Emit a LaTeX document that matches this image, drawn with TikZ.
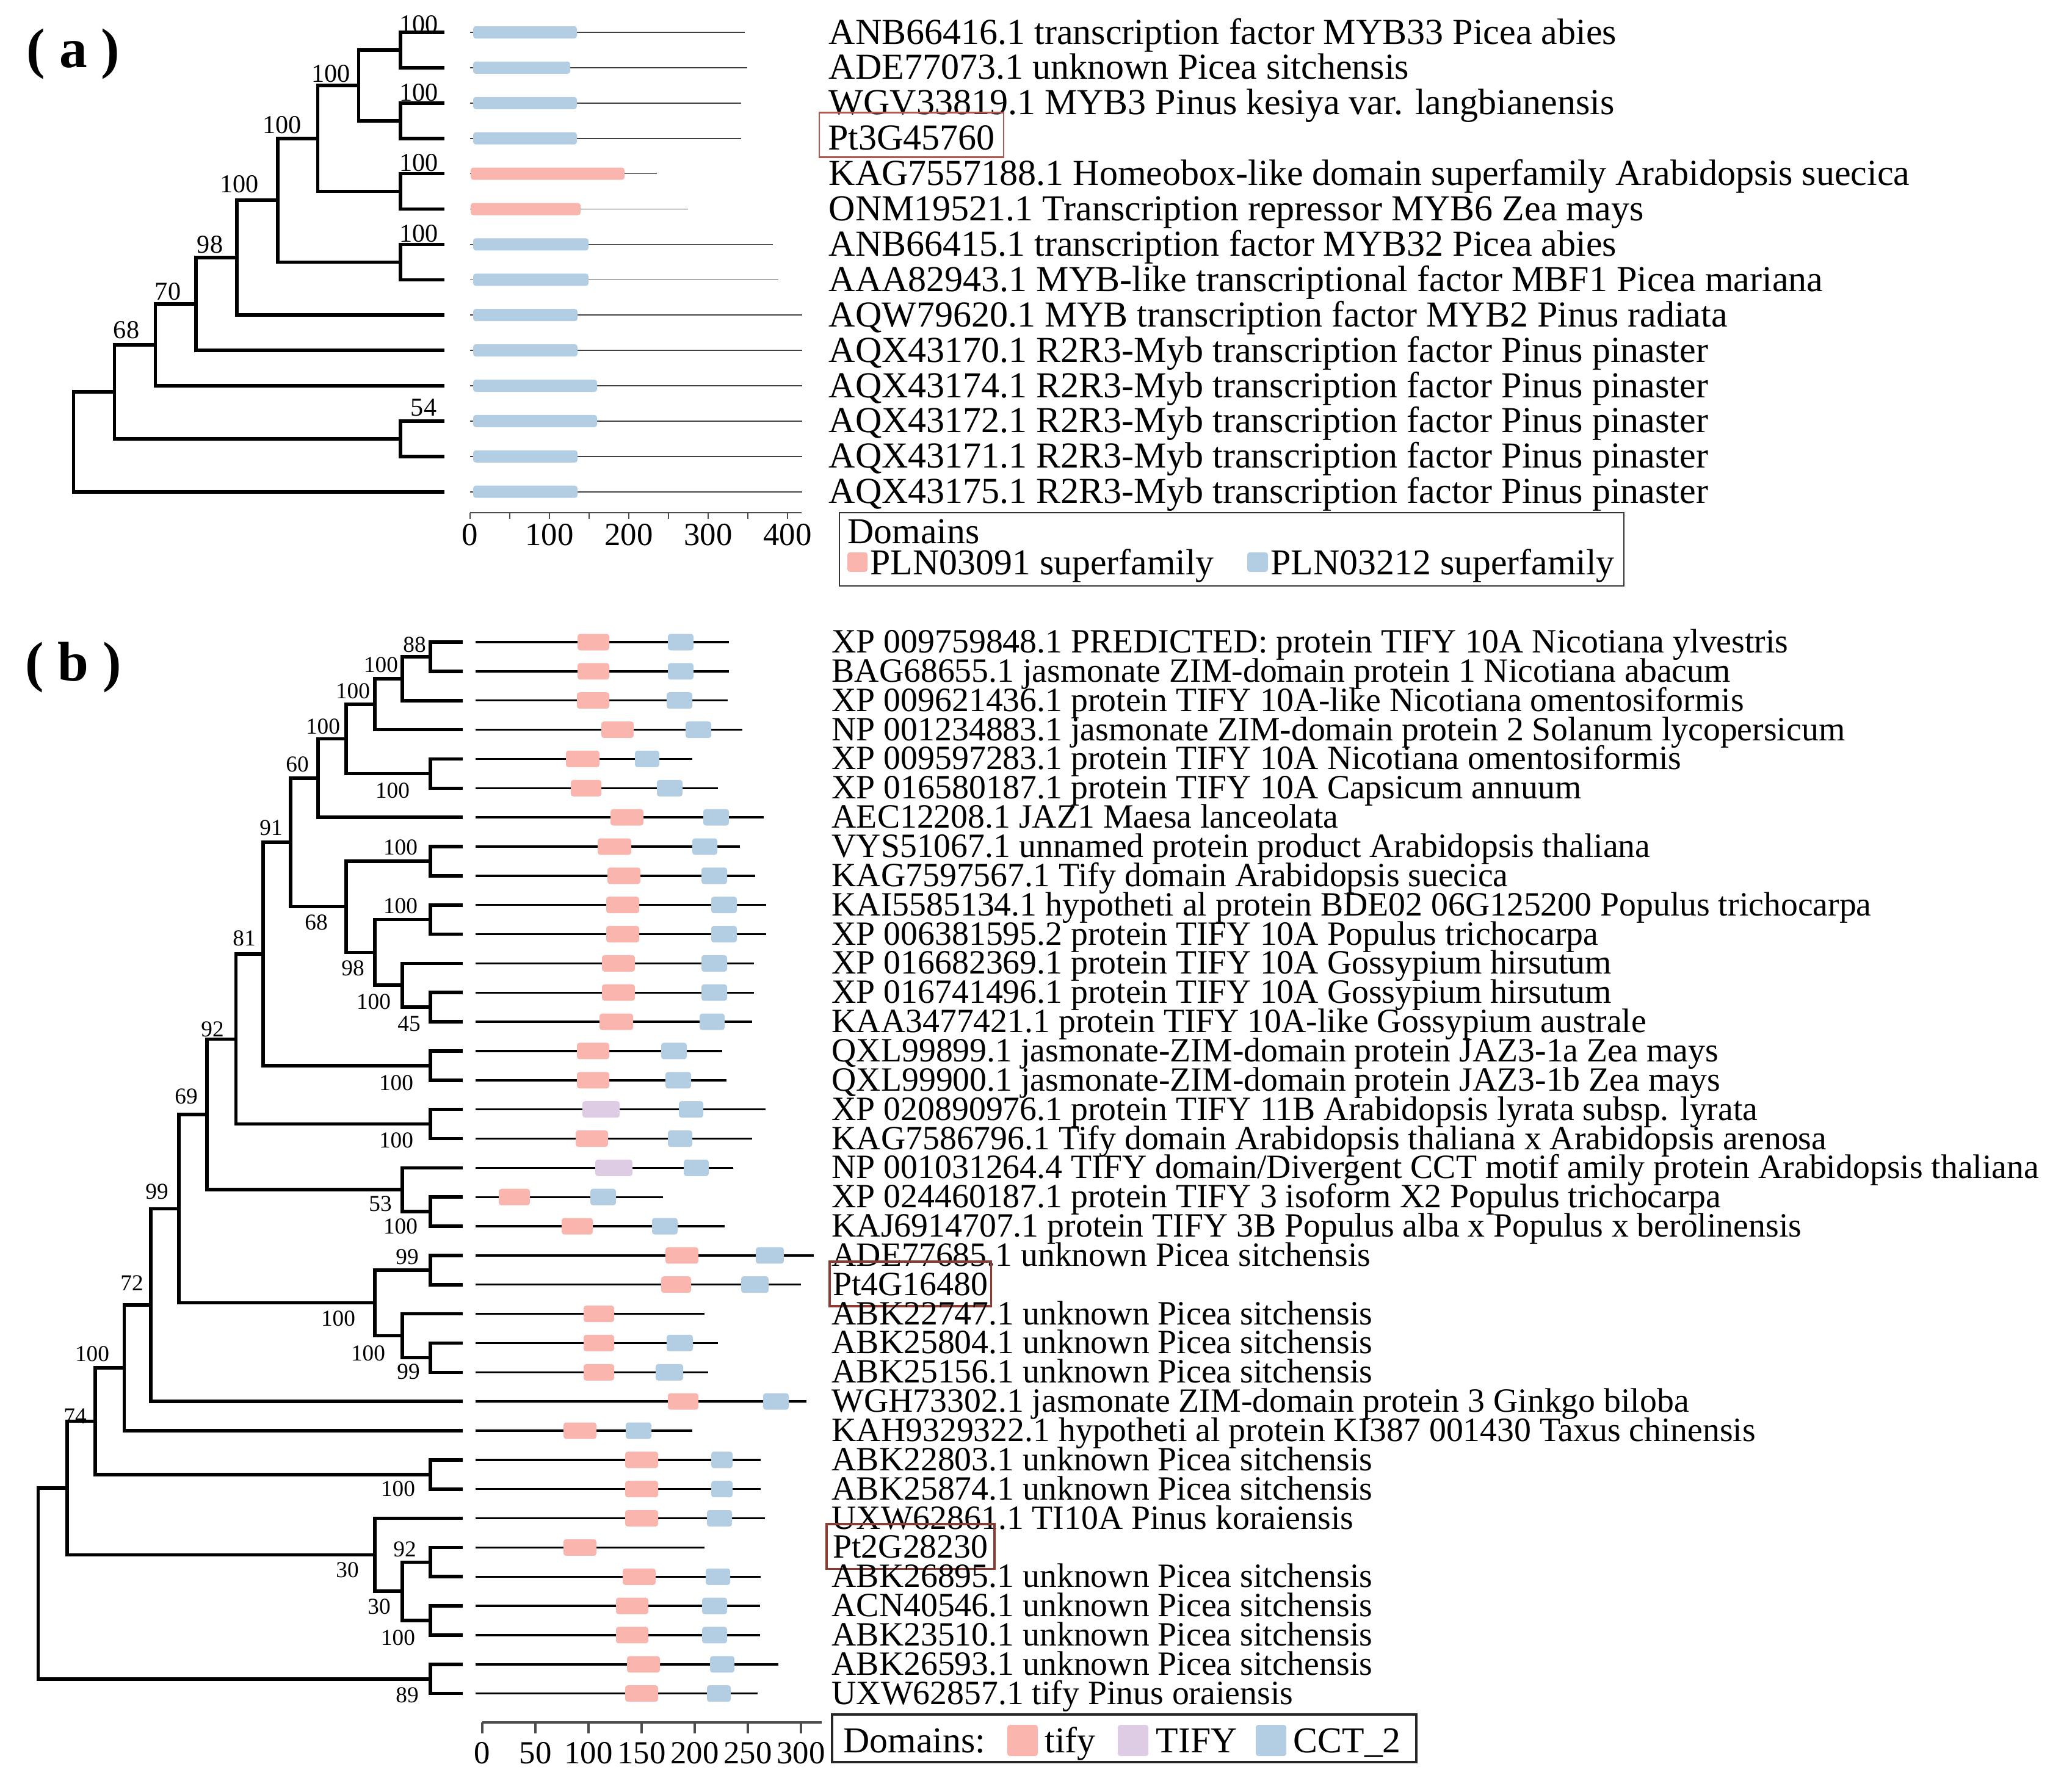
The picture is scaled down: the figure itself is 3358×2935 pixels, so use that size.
\documentclass[tikz,border=0pt]{standalone}
\usepackage{fontspec}
\setmainfont{Liberation Serif}
\usepackage{tikz}
\usetikzlibrary{positioning}
\definecolor{tifyc}{RGB}{249,181,174}
\definecolor{cctc}{RGB}{179,205,227}
\definecolor{tiflc}{RGB}{221,204,228}
\definecolor{boxa}{RGB}{178,88,80}
\definecolor{boxb}{RGB}{138,60,50}

\begin{document}
\begin{tikzpicture}[x=0.01cm, y=-0.01cm]
\tikzstyle{br}=[line width=1.6pt, line cap=rect]
\tikzstyle{bba}=[line width=0.45pt, black!75]
\tikzstyle{bbb}=[line width=0.95pt]
\tikzstyle{tify}=[fill=tifyc, rounded corners=1.2pt]
\tikzstyle{tifu}=[fill=tiflc, rounded corners=1.2pt]
\tikzstyle{cct}=[fill=cctc, rounded corners=1.2pt]
\tikzstyle{ta}=[anchor=base west, inner sep=0pt, yshift=-0.19cm, font=\fontsize{17.07pt}{20pt}\selectfont]
\tikzstyle{tb}=[anchor=base west, inner sep=0pt, yshift=-0.175cm, font=\fontsize{15.85pt}{18pt}\selectfont]
\tikzstyle{ptboxa}=[draw=boxa, line width=0.7pt, inner xsep=4pt, inner ysep=1pt, text height=16.4pt, text depth=2.4pt]
\tikzstyle{ptboxb}=[draw=boxb, line width=1.1pt, inner xsep=1.5pt, inner ysep=1pt, text height=14.8pt, text depth=4pt]
\tikzstyle{bsa}=[inner sep=0pt, font=\fontsize{12pt}{14pt}\selectfont]
\tikzstyle{bsb}=[inner sep=0pt, font=\fontsize{10.6pt}{13pt}\selectfont]
\tikzstyle{tick}=[inner sep=0pt, font=\fontsize{15pt}{17pt}\selectfont]
\tikzstyle{ax}=[line width=0.7pt, black!70]
\tikzstyle{leg}=[anchor=base west, inner sep=0pt, font=\fontsize{17pt}{20pt}\selectfont]
\tikzstyle{pan}=[inner sep=0pt, font=\fontsize{26pt}{30pt}\selectfont\bfseries]
\useasboundingbox (0,0) rectangle (3358,2935);

% ---------------- (a) ----------------
\node[pan] (pa) at (120,88) {( a )};
\coordinate (la1) at (725,53); \coordinate (la2) at (725,110.9); \coordinate (la3) at (725,168.8);
\coordinate (la4) at (725,226.7); \coordinate (la5) at (725,284.6); \coordinate (la6) at (725,342.5);
\coordinate (la7) at (725,400.4); \coordinate (la8) at (725,458.3); \coordinate (la9) at (725,516.2);
\coordinate (la10) at (725,574.1); \coordinate (la11) at (725,632); \coordinate (la12) at (725,689.9);
\coordinate (la13) at (725,747.8); \coordinate (la14) at (725,805.7);
\coordinate (na1) at (656,82); \coordinate (na2) at (656,197.75); \coordinate (na3) at (587.5,139.9);
\coordinate (na5) at (656,313.55); \coordinate (na4) at (520.5,226.7); \coordinate (na7) at (656,429.35);
\coordinate (na6) at (455,328); \coordinate (na8) at (388,422.1); \coordinate (na9) at (321,498.1);
\coordinate (na10) at (254.5,565.05); \coordinate (na11) at (656,718.85); \coordinate (na12) at (187.5,641.95);
\coordinate (na13) at (120.5,723.8);

\draw[br] (na1) |- (la1) (na1) |- (la2) (na2) |- (la3) (na2) |- (la4);
\draw[br] (na3) |- (na1) (na3) |- (na2) (na5) |- (la5) (na5) |- (la6);
\draw[br] (na4) |- (na3) (na4) |- (na5) (na7) |- (la7) (na7) |- (la8);
\draw[br] (na6) |- (na4) (na6) |- (na7) (na8) |- (na6) (na8) |- (la9);
\draw[br] (na9) |- (na8) (na9) |- (la10) (na10) |- (na9) (na10) |- (la11);
\draw[br] (na11) |- (la12) (na11) |- (la13) (na12) |- (na10) (na12) |- (na11);
\draw[br] (na13) |- (na12) (na13) |- (la14);

\node[bsa] (sa1) at (686,40) {100}; \node[bsa] (sa2) at (542,121) {100};
\node[bsa] (sa3) at (686,152) {100}; \node[bsa] (sa4) at (462,205) {100};
\node[bsa] (sa5) at (686,267) {100}; \node[bsa] (sa6) at (392,302) {100};
\node[bsa] (sa7) at (686,383) {100}; \node[bsa] (sa8) at (344,401) {98};
\node[bsa] (sa9) at (275,478) {70}; \node[bsa] (sa10) at (207,541) {68};
\node[bsa] (sa11) at (694,668) {54};

% domains (a)
\draw[bba] (770,53) -- (1220,53); \fill[cct] (775,53) +(0,-10) rectangle +(170,10);
\draw[bba] (770,110.9) -- (1224,110.9); \fill[cct] (775,110.9) +(0,-10) rectangle +(159,10);
\draw[bba] (770,168.8) -- (1214,168.8); \fill[cct] (775,168.8) +(0,-10) rectangle +(170,10);
\draw[bba] (770,226.7) -- (1214,226.7); \fill[cct] (775,226.7) +(0,-10) rectangle +(170,10);
\draw[bba] (770,284.6) -- (1076,284.6); \fill[tify] (771,284.6) +(0,-10) rectangle +(252,10);
\draw[bba] (770,342.5) -- (1127,342.5); \fill[tify] (771,342.5) +(0,-10) rectangle +(180,10);
\draw[bba] (770,400.4) -- (1266,400.4); \fill[cct] (775,400.4) +(0,-10) rectangle +(189,10);
\draw[bba] (770,458.3) -- (1275,458.3); \fill[cct] (775,458.3) +(0,-10) rectangle +(189,10);
\draw[bba] (770,516.2) -- (1314,516.2); \fill[cct] (775,516.2) +(0,-10) rectangle +(171,10);
\draw[bba] (770,574.1) -- (1314,574.1); \fill[cct] (775,574.1) +(0,-10) rectangle +(171,10);
\draw[bba] (770,632) -- (1314,632); \fill[cct] (775,632) +(0,-10) rectangle +(203,10);
\draw[bba] (770,689.9) -- (1314,689.9); \fill[cct] (775,689.9) +(0,-10) rectangle +(203,10);
\draw[bba] (770,747.8) -- (1314,747.8); \fill[cct] (775,747.8) +(0,-10) rectangle +(171,10);
\draw[bba] (770,805.7) -- (1314,805.7); \fill[cct] (775,805.7) +(0,-10) rectangle +(171,10);

\node[ta] (ta1) at (1357,53) {ANB66416.1 transcription factor MYB33 Picea abies};
\node[ta] (ta2) at (1357,110.9) {ADE77073.1 unknown Picea sitchensis};
\node[ta] (ta3) at (1357,168.8) {WGV33819.1 MYB3 Pinus kesiya var. langbianensis};
\node[ta, ptboxa] (ta4) at (1341,226.7) {Pt3G45760};
\node[ta] (ta5) at (1357,284.6) {KAG7557188.1 Homeobox-like domain superfamily Arabidopsis suecica};
\node[ta] (ta6) at (1357,342.5) {ONM19521.1 Transcription repressor MYB6 Zea mays};
\node[ta] (ta7) at (1357,400.4) {ANB66415.1 transcription factor MYB32 Picea abies};
\node[ta] (ta8) at (1357,458.3) {AAA82943.1 MYB-like transcriptional factor MBF1 Picea mariana};
\node[ta] (ta9) at (1357,516.2) {AQW79620.1 MYB transcription factor MYB2 Pinus radiata};
\node[ta] (ta10) at (1357,574.1) {AQX43170.1 R2R3-Myb transcription factor Pinus pinaster};
\node[ta] (ta11) at (1357,632) {AQX43174.1 R2R3-Myb transcription factor Pinus pinaster};
\node[ta] (ta12) at (1357,689.9) {AQX43172.1 R2R3-Myb transcription factor Pinus pinaster};
\node[ta] (ta13) at (1357,747.8) {AQX43171.1 R2R3-Myb transcription factor Pinus pinaster};
\node[ta] (ta14) at (1357,805.7) {AQX43175.1 R2R3-Myb transcription factor Pinus pinaster};

% scale (a)
\draw[ax] (770,840) -- (1313,840) (770,840) -- (770,850) (835,840) -- (835,850) (900,840) -- (900,850)
  (965,840) -- (965,850) (1030,840) -- (1030,850) (1095,840) -- (1095,850) (1160,840) -- (1160,850)
  (1225,840) -- (1225,850) (1290,840) -- (1290,850);
\node[tick] (ka0) at (770,876) {0}; \node[tick] (ka1) at (900,876) {100}; \node[tick] (ka2) at (1030,876) {200};
\node[tick] (ka3) at (1160,876) {300}; \node[tick] (ka4) at (1290,876) {400};

% legend (a)
\draw[line width=0.8pt, black!80] (1375,840) rectangle (2660,960);
\node[leg] (lga) at (1388,890) {Domains};
\fill[tify] (1388,905) rectangle (1421,937);
\node[leg] (lga1) at (1425,941) {PLN03091 superfamily};
\fill[cct] (2043,905) rectangle (2077,937);
\node[leg] (lga2) at (2081,941) {PLN03212 superfamily};

% ---------------- (b) ----------------
\node[pan] (pb) at (120,1093) {( b )};
\coordinate (lb1) at (755,1052); \coordinate (lb2) at (755,1099.9); \coordinate (lb3) at (755,1147.7);
\coordinate (lb4) at (755,1195.6); \coordinate (lb5) at (755,1243.4); \coordinate (lb6) at (755,1291.3);
\coordinate (lb7) at (755,1339.1); \coordinate (lb8) at (755,1387); \coordinate (lb9) at (755,1434.8);
\coordinate (lb10) at (755,1482.7); \coordinate (lb11) at (755,1530.5); \coordinate (lb12) at (755,1578.4);
\coordinate (lb13) at (755,1626.2); \coordinate (lb14) at (755,1674.1); \coordinate (lb15) at (755,1721.9);
\coordinate (lb16) at (755,1769.8); \coordinate (lb17) at (755,1817.6); \coordinate (lb18) at (755,1865.5);
\coordinate (lb19) at (755,1913.3); \coordinate (lb20) at (755,1961.2); \coordinate (lb21) at (755,2009);
\coordinate (lb22) at (755,2056.9); \coordinate (lb23) at (755,2104.7); \coordinate (lb24) at (755,2152.6);
\coordinate (lb25) at (755,2200.4); \coordinate (lb26) at (755,2248.3); \coordinate (lb27) at (755,2296.1);
\coordinate (lb28) at (755,2344); \coordinate (lb29) at (755,2391.8); \coordinate (lb30) at (755,2439.7);
\coordinate (lb31) at (755,2487.5); \coordinate (lb32) at (755,2535.4); \coordinate (lb33) at (755,2583.2);
\coordinate (lb34) at (755,2631.1); \coordinate (lb35) at (755,2678.9); \coordinate (lb36) at (755,2726.8);
\coordinate (lb37) at (755,2774.6);

\coordinate (nb1) at (705,1075.9); \coordinate (nb2) at (659,1111.8); \coordinate (nb3) at (614,1153.7);
\coordinate (nb4) at (705,1267.3); \coordinate (nb5) at (567,1210.5); \coordinate (nb6) at (521,1274.8);
\coordinate (nb7) at (705,1410.9); \coordinate (nb8) at (705,1506.6); \coordinate (nb9) at (705,1650.1);
\coordinate (nb10) at (659,1614.2); \coordinate (nb11) at (614,1560.4); \coordinate (nb12) at (567,1485.6);
\coordinate (nb13) at (476,1380.2); \coordinate (nb14) at (705,1745.8); \coordinate (nb15) at (431,1563);
\coordinate (nb16) at (705,1841.5); \coordinate (nb17) at (386.6,1702.3); \coordinate (nb18) at (705,1985.1);
\coordinate (nb19) at (659,1949.2); \coordinate (nb20) at (339,1825.7); \coordinate (nb21) at (705,2080.8);
\coordinate (nb22) at (705,2224.3); \coordinate (nb23) at (659,2188.4); \coordinate (nb24) at (614,2134.6);
\coordinate (nb25) at (293,1980.3); \coordinate (nb26) at (247,2138.2); \coordinate (nb27) at (203.6,2241.1);
\coordinate (nb28) at (705,2415.7); \coordinate (nb29) at (156,2328.4); \coordinate (nb30) at (705,2559.3);
\coordinate (nb31) at (705,2655); \coordinate (nb32) at (659,2607.1); \coordinate (nb33) at (614,2547.3);
\coordinate (nb34) at (110,2437.7); \coordinate (nb35) at (705,2750.7); \coordinate (nb36) at (62.5,2594.2);

\draw[br] (nb1) |- (lb1) (nb1) |- (lb2) (nb2) |- (nb1) (nb2) |- (lb3) (nb3) |- (nb2) (nb3) |- (lb4);
\draw[br] (nb4) |- (lb5) (nb4) |- (lb6) (nb5) |- (nb3) (nb5) |- (nb4) (nb6) |- (nb5) (nb6) |- (lb7);
\draw[br] (nb7) |- (lb8) (nb7) |- (lb9) (nb8) |- (lb10) (nb8) |- (lb11) (nb9) |- (lb13) (nb9) |- (lb14);
\draw[br] (nb10) |- (lb12) (nb10) |- (nb9) (nb11) |- (nb8) (nb11) |- (nb10) (nb12) |- (nb7) (nb12) |- (nb11);
\draw[br] (nb13) |- (nb6) (nb13) |- (nb12) (nb14) |- (lb15) (nb14) |- (lb16) (nb15) |- (nb13) (nb15) |- (nb14);
\draw[br] (nb16) |- (lb17) (nb16) |- (lb18) (nb17) |- (nb15) (nb17) |- (nb16);
\draw[br] (nb18) |- (lb20) (nb18) |- (lb21) (nb19) |- (lb19) (nb19) |- (nb18) (nb20) |- (nb17) (nb20) |- (nb19);
\draw[br] (nb21) |- (lb22) (nb21) |- (lb23) (nb22) |- (lb25) (nb22) |- (lb26) (nb23) |- (lb24) (nb23) |- (nb22);
\draw[br] (nb24) |- (nb21) (nb24) |- (nb23) (nb25) |- (nb20) (nb25) |- (nb24) (nb26) |- (nb25) (nb26) |- (lb27);
\draw[br] (nb27) |- (nb26) (nb27) |- (lb28) (nb28) |- (lb29) (nb28) |- (lb30) (nb29) |- (nb27) (nb29) |- (nb28);
\draw[br] (nb30) |- (lb32) (nb30) |- (lb33) (nb31) |- (lb34) (nb31) |- (lb35) (nb32) |- (nb30) (nb32) |- (nb31);
\draw[br] (nb33) |- (lb31) (nb33) |- (nb32) (nb34) |- (nb29) (nb34) |- (nb33);
\draw[br] (nb35) |- (lb36) (nb35) |- (lb37) (nb36) |- (nb34) (nb36) |- (nb35);

\node[bsb] (sb1) at (679,1056) {88}; \node[bsb] (sb2) at (624,1089) {100}; \node[bsb] (sb3) at (578,1132) {100};
\node[bsb] (sb4) at (529,1190) {100}; \node[bsb] (sb5) at (643,1295) {100}; \node[bsb] (sb6) at (487,1252) {60};
\node[bsb] (sb7) at (444,1356) {91}; \node[bsb] (sb8) at (656,1388) {100}; \node[bsb] (sb9) at (518,1511) {68};
\node[bsb] (sb10) at (656,1484) {100}; \node[bsb] (sb11) at (578,1586) {98}; \node[bsb] (sb12) at (612,1641) {100};
\node[bsb] (sb13) at (670,1677) {45}; \node[bsb] (sb14) at (400,1537) {81}; \node[bsb] (sb15) at (348,1686) {92};
\node[bsb] (sb16) at (649,1774) {100}; \node[bsb] (sb17) at (649,1868) {100}; \node[bsb] (sb18) at (305,1796) {69};
\node[bsb] (sb19) at (623,1972) {53}; \node[bsb] (sb20) at (656,2009) {100}; \node[bsb] (sb21) at (257,1952) {99};
\node[bsb] (sb22) at (667,2059) {99}; \node[bsb] (sb23) at (554,2160) {100}; \node[bsb] (sb24) at (603,2217) {100};
\node[bsb] (sb25) at (669,2247) {99}; \node[bsb] (sb26) at (216,2102) {72}; \node[bsb] (sb27) at (151,2218) {100};
\node[bsb] (sb28) at (123,2320) {74}; \node[bsb] (sb29) at (652,2439) {100}; \node[bsb] (sb30) at (663,2538) {92};
\node[bsb] (sb31) at (569,2572) {30}; \node[bsb] (sb32) at (621,2632) {30}; \node[bsb] (sb33) at (652,2683) {100};
\node[bsb] (sb34) at (667,2777) {89};

% domains (b)
\draw[bbb] (779,1052) -- (1194,1052); \fill[tify] (946,1052) +(0,-13.5) rectangle +(52,13.5); \fill[cct] (1094,1052) +(0,-13.5) rectangle +(42,13.5);
\draw[bbb] (779,1099.9) -- (1194,1099.9); \fill[tify] (946,1099.9) +(0,-13.5) rectangle +(52,13.5); \fill[cct] (1094,1099.9) +(0,-13.5) rectangle +(42,13.5);
\draw[bbb] (779,1147.7) -- (1192,1147.7); \fill[tify] (945,1147.7) +(0,-13.5) rectangle +(53,13.5); \fill[cct] (1092,1147.7) +(0,-13.5) rectangle +(42,13.5);
\draw[bbb] (779,1195.6) -- (1216,1195.6); \fill[tify] (985,1195.6) +(0,-13.5) rectangle +(53,13.5); \fill[cct] (1123,1195.6) +(0,-13.5) rectangle +(42,13.5);
\draw[bbb] (779,1243.4) -- (1134,1243.4); \fill[tify] (927,1243.4) +(0,-13.5) rectangle +(55,13.5); \fill[cct] (1040,1243.4) +(0,-13.5) rectangle +(40,13.5);
\draw[bbb] (779,1291.3) -- (1176,1291.3); \fill[tify] (935,1291.3) +(0,-13.5) rectangle +(50,13.5); \fill[cct] (1076,1291.3) +(0,-13.5) rectangle +(42,13.5);
\draw[bbb] (779,1339.1) -- (1251,1339.1); \fill[tify] (1000,1339.1) +(0,-13.5) rectangle +(54,13.5); \fill[cct] (1152,1339.1) +(0,-13.5) rectangle +(42,13.5);
\draw[bbb] (779,1387) -- (1212,1387); \fill[tify] (979,1387) +(0,-13.5) rectangle +(55,13.5); \fill[cct] (1134,1387) +(0,-13.5) rectangle +(41,13.5);
\draw[bbb] (779,1434.8) -- (1237,1434.8); \fill[tify] (995,1434.8) +(0,-13.5) rectangle +(54,13.5); \fill[cct] (1149,1434.8) +(0,-13.5) rectangle +(42,13.5);
\draw[bbb] (779,1482.7) -- (1255,1482.7); \fill[tify] (993,1482.7) +(0,-13.5) rectangle +(54,13.5); \fill[cct] (1165,1482.7) +(0,-13.5) rectangle +(42,13.5);
\draw[bbb] (779,1530.5) -- (1255,1530.5); \fill[tify] (993,1530.5) +(0,-13.5) rectangle +(54,13.5); \fill[cct] (1165,1530.5) +(0,-13.5) rectangle +(42,13.5);
\draw[bbb] (779,1578.4) -- (1235,1578.4); \fill[tify] (986,1578.4) +(0,-13.5) rectangle +(54,13.5); \fill[cct] (1149,1578.4) +(0,-13.5) rectangle +(42,13.5);
\draw[bbb] (779,1626.2) -- (1235,1626.2); \fill[tify] (986,1626.2) +(0,-13.5) rectangle +(54,13.5); \fill[cct] (1149,1626.2) +(0,-13.5) rectangle +(42,13.5);
\draw[bbb] (779,1674.1) -- (1232,1674.1); \fill[tify] (982,1674.1) +(0,-13.5) rectangle +(55,13.5); \fill[cct] (1146,1674.1) +(0,-13.5) rectangle +(41,13.5);
\draw[bbb] (779,1721.9) -- (1183,1721.9); \fill[tify] (945,1721.9) +(0,-13.5) rectangle +(53,13.5); \fill[cct] (1083,1721.9) +(0,-13.5) rectangle +(42,13.5);
\draw[bbb] (779,1769.8) -- (1190,1769.8); \fill[tify] (945,1769.8) +(0,-13.5) rectangle +(53,13.5); \fill[cct] (1090,1769.8) +(0,-13.5) rectangle +(42,13.5);
\draw[bbb] (779,1817.6) -- (1254,1817.6); \fill[tifu] (954,1817.6) +(0,-13.5) rectangle +(61,13.5); \fill[cct] (1112,1817.6) +(0,-13.5) rectangle +(40,13.5);
\draw[bbb] (779,1865.5) -- (1232,1865.5); \fill[tify] (943,1865.5) +(0,-13.5) rectangle +(53,13.5); \fill[cct] (1094,1865.5) +(0,-13.5) rectangle +(40,13.5);
\draw[bbb] (779,1913.3) -- (1201,1913.3); \fill[tifu] (975,1913.3) +(0,-13.5) rectangle +(61,13.5); \fill[cct] (1120,1913.3) +(0,-13.5) rectangle +(41,13.5);
\draw[bbb] (779,1961.2) -- (1086,1961.2); \fill[tify] (817,1961.2) +(0,-13.5) rectangle +(51,13.5); \fill[cct] (967,1961.2) +(0,-13.5) rectangle +(42,13.5);
\draw[bbb] (779,2009) -- (1187,2009); \fill[tify] (920,2009) +(0,-13.5) rectangle +(51,13.5); \fill[cct] (1068,2009) +(0,-13.5) rectangle +(42,13.5);
\draw[bbb] (779,2056.9) -- (1333,2056.9); \fill[tify] (1090,2056.9) +(0,-13.5) rectangle +(54,13.5); \fill[cct] (1238,2056.9) +(0,-13.5) rectangle +(46,13.5);
\draw[bbb] (779,2104.7) -- (1312,2104.7); \fill[tify] (1083,2104.7) +(0,-13.5) rectangle +(49,13.5); \fill[cct] (1214,2104.7) +(0,-13.5) rectangle +(45,13.5);
\draw[bbb] (779,2152.6) -- (1154,2152.6); \fill[tify] (956,2152.6) +(0,-13.5) rectangle +(50,13.5);
\draw[bbb] (779,2200.4) -- (1176,2200.4); \fill[tify] (956,2200.4) +(0,-13.5) rectangle +(50,13.5); \fill[cct] (1092,2200.4) +(0,-13.5) rectangle +(43,13.5);
\draw[bbb] (779,2248.3) -- (1160,2248.3); \fill[tify] (956,2248.3) +(0,-13.5) rectangle +(50,13.5); \fill[cct] (1074,2248.3) +(0,-13.5) rectangle +(45,13.5);
\draw[bbb] (779,2296.1) -- (1321,2296.1); \fill[tify] (1094,2296.1) +(0,-13.5) rectangle +(50,13.5); \fill[cct] (1250,2296.1) +(0,-13.5) rectangle +(42,13.5);
\draw[bbb] (779,2344) -- (1134,2344); \fill[tify] (923,2344) +(0,-13.5) rectangle +(54,13.5); \fill[cct] (1025,2344) +(0,-13.5) rectangle +(42,13.5);
\draw[bbb] (779,2391.8) -- (1246,2391.8); \fill[tify] (1024,2391.8) +(0,-13.5) rectangle +(54,13.5); \fill[cct] (1165,2391.8) +(0,-13.5) rectangle +(35,13.5);
\draw[bbb] (779,2439.7) -- (1246,2439.7); \fill[tify] (1024,2439.7) +(0,-13.5) rectangle +(54,13.5); \fill[cct] (1165,2439.7) +(0,-13.5) rectangle +(35,13.5);
\draw[bbb] (779,2487.5) -- (1253,2487.5); \fill[tify] (1024,2487.5) +(0,-13.5) rectangle +(54,13.5); \fill[cct] (1158,2487.5) +(0,-13.5) rectangle +(41,13.5);
\draw[bbb] (779,2535.4) -- (1154,2535.4); \fill[tify] (923,2535.4) +(0,-13.5) rectangle +(54,13.5);
\draw[bbb] (779,2583.2) -- (1246,2583.2); \fill[tify] (1020,2583.2) +(0,-13.5) rectangle +(54,13.5); \fill[cct] (1156,2583.2) +(0,-13.5) rectangle +(40,13.5);
\draw[bbb] (779,2631.1) -- (1245,2631.1); \fill[tify] (1009,2631.1) +(0,-13.5) rectangle +(53,13.5); \fill[cct] (1150,2631.1) +(0,-13.5) rectangle +(41,13.5);
\draw[bbb] (779,2678.9) -- (1245,2678.9); \fill[tify] (1009,2678.9) +(0,-13.5) rectangle +(53,13.5); \fill[cct] (1150,2678.9) +(0,-13.5) rectangle +(41,13.5);
\draw[bbb] (779,2726.8) -- (1275,2726.8); \fill[tify] (1027,2726.8) +(0,-13.5) rectangle +(54,13.5); \fill[cct] (1163,2726.8) +(0,-13.5) rectangle +(40,13.5);
\draw[bbb] (779,2774.6) -- (1241,2774.6); \fill[tify] (1024,2774.6) +(0,-13.5) rectangle +(54,13.5); \fill[cct] (1158,2774.6) +(0,-13.5) rectangle +(39,13.5);

\node[tb] (tb1) at (1362,1052) {XP 009759848.1 PREDICTED: protein TIFY 10A Nicotiana ylvestris};
\node[tb] (tb2) at (1362,1099.9) {BAG68655.1 jasmonate ZIM-domain protein 1 Nicotiana abacum};
\node[tb] (tb3) at (1362,1147.7) {XP 009621436.1 protein TIFY 10A-like Nicotiana omentosiformis};
\node[tb] (tb4) at (1362,1195.6) {NP 001234883.1 jasmonate ZIM-domain protein 2 Solanum lycopersicum};
\node[tb] (tb5) at (1362,1243.4) {XP 009597283.1 protein TIFY 10A Nicotiana omentosiformis};
\node[tb] (tb6) at (1362,1291.3) {XP 016580187.1 protein TIFY 10A Capsicum annuum};
\node[tb] (tb7) at (1362,1339.1) {AEC12208.1 JAZ1 Maesa lanceolata};
\node[tb] (tb8) at (1362,1387) {VYS51067.1 unnamed protein product Arabidopsis thaliana};
\node[tb] (tb9) at (1362,1434.8) {KAG7597567.1 Tify domain Arabidopsis suecica};
\node[tb] (tb10) at (1362,1482.7) {KAI5585134.1 hypotheti al protein BDE02 06G125200 Populus trichocarpa};
\node[tb] (tb11) at (1362,1530.5) {XP 006381595.2 protein TIFY 10A Populus trichocarpa};
\node[tb] (tb12) at (1362,1578.4) {XP 016682369.1 protein TIFY 10A Gossypium hirsutum};
\node[tb] (tb13) at (1362,1626.2) {XP 016741496.1 protein TIFY 10A Gossypium hirsutum};
\node[tb] (tb14) at (1362,1674.1) {KAA3477421.1 protein TIFY 10A-like Gossypium australe};
\node[tb] (tb15) at (1362,1721.9) {QXL99899.1 jasmonate-ZIM-domain protein JAZ3-1a Zea mays};
\node[tb] (tb16) at (1362,1769.8) {QXL99900.1 jasmonate-ZIM-domain protein JAZ3-1b Zea mays};
\node[tb] (tb17) at (1362,1817.6) {XP 020890976.1 protein TIFY 11B Arabidopsis lyrata subsp. lyrata};
\node[tb] (tb18) at (1362,1865.5) {KAG7586796.1 Tify domain Arabidopsis thaliana x Arabidopsis arenosa};
\node[tb] (tb19) at (1362,1913.3) {NP 001031264.4 TIFY domain/Divergent CCT motif amily protein Arabidopsis thaliana};
\node[tb] (tb20) at (1362,1961.2) {XP 024460187.1 protein TIFY 3 isoform X2 Populus trichocarpa};
\node[tb] (tb21) at (1362,2009) {KAJ6914707.1 protein TIFY 3B Populus alba x Populus x berolinensis};
\node[tb] (tb22) at (1362,2056.9) {ADE77685.1 unknown Picea sitchensis};
\node[tb, ptboxb] (tb23) at (1357,2104.7) {Pt4G16480};
\node[tb] (tb24) at (1362,2152.6) {ABK22747.1 unknown Picea sitchensis};
\node[tb] (tb25) at (1362,2200.4) {ABK25804.1 unknown Picea sitchensis};
\node[tb] (tb26) at (1362,2248.3) {ABK25156.1 unknown Picea sitchensis};
\node[tb] (tb27) at (1362,2296.1) {WGH73302.1 jasmonate ZIM-domain protein 3 Ginkgo biloba};
\node[tb] (tb28) at (1362,2344) {KAH9329322.1 hypotheti al protein KI387 001430 Taxus chinensis};
\node[tb] (tb29) at (1362,2391.8) {ABK22803.1 unknown Picea sitchensis};
\node[tb] (tb30) at (1362,2439.7) {ABK25874.1 unknown Picea sitchensis};
\node[tb] (tb31) at (1362,2487.5) {UXW62861.1 TI10A Pinus koraiensis};
\node[tb, ptboxb, inner xsep=3pt] (tb32) at (1352,2535.4) {Pt2G28230};
\node[tb] (tb33) at (1362,2583.2) {ABK26895.1 unknown Picea sitchensis};
\node[tb] (tb34) at (1362,2631.1) {ACN40546.1 unknown Picea sitchensis};
\node[tb] (tb35) at (1362,2678.9) {ABK23510.1 unknown Picea sitchensis};
\node[tb] (tb36) at (1362,2726.8) {ABK26593.1 unknown Picea sitchensis};
\node[tb] (tb37) at (1362,2774.6) {UXW62857.1 tify Pinus oraiensis};

% scale (b)
\draw[ax, line width=0.9pt] (790,2822) -- (1346,2822) (790,2822) -- (790,2840) (877,2822) -- (877,2840)
  (964,2822) -- (964,2840) (1051,2822) -- (1051,2840) (1138,2822) -- (1138,2840) (1225,2822) -- (1225,2840)
  (1312,2822) -- (1312,2840);
\node[tick] (kb0) at (790,2872) {0}; \node[tick] (kb1) at (877,2872) {50}; \node[tick] (kb2) at (964,2872) {100};
\node[tick] (kb3) at (1051,2872) {150}; \node[tick] (kb4) at (1138,2872) {200}; \node[tick] (kb5) at (1225,2872) {250};
\node[tick] (kb6) at (1312,2872) {300};

% legend (b)
\draw[line width=0.9pt, black!85] (1363,2809) rectangle (2320,2887);
\node[leg] (lgb) at (1381,2871) {Domains:};
\fill[tify] (1650,2826) rectangle (1700,2877); \node[leg] (lgb1) at (1711,2871) {tify};
\fill[tifu] (1831,2826) rectangle (1881,2877); \node[leg] (lgb2) at (1893,2871) {TIFY};
\fill[cct] (2057,2826) rectangle (2107,2877); \node[leg] (lgb3) at (2118,2871) {CCT\_2};
\end{tikzpicture}
\end{document}
